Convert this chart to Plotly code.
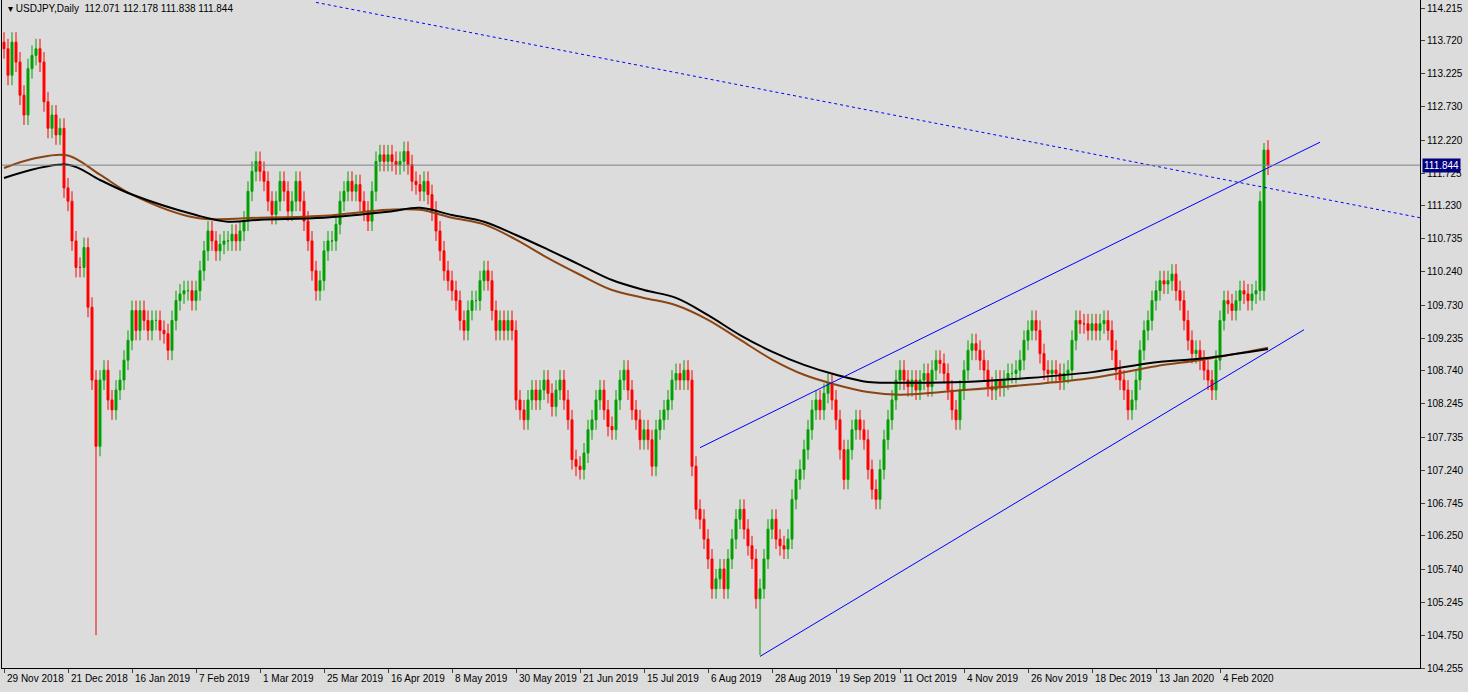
import plotly.graph_objects as go

closes = [113.6,113.2,113.7,113.4,112.9,112.6,113.3,113.5,113.6,113.4,112.8,112.4,112.6,112.3,112.4,
111.5,111.3,110.7,110.3,110.3,110.6,109.7,108.6,107.6,108.6,108.75,108.3,108.15,108.45,108.6,108.9,109.2,109.65,109.35,109.65,109.5,109.35,109.5,109.5,109.35,109.3,109.05,109.5,109.8,109.9,109.95,109.95,109.8,109.95,110.25,110.55,110.85,110.7,110.55,110.65,110.7,110.7,110.8,110.7,110.85,111.0,111.45,111.75,111.9,111.75,111.6,111.3,111.1,111.3,111.6,111.45,111.15,111.3,111.6,111.3,111.0,110.7,110.25,109.95,110.1,110.55,110.7,110.7,110.95,111.3,111.45,111.6,111.45,111.55,111.3,111.15,111.0,111.45,111.9,112.0,111.9,112.0,111.9,111.85,111.9,112.05,111.85,111.6,111.55,111.45,111.6,111.4,111.15,110.85,110.55,110.25,110.1,109.95,109.8,109.5,109.35,109.65,109.8,109.8,110.1,110.25,110.1,109.65,109.35,109.5,109.35,109.5,109.35,108.3,108.15,108.0,108.3,108.45,108.3,108.45,108.6,108.4,108.2,108.45,108.6,108.3,108.0,107.4,107.3,107.25,107.5,107.85,108.0,108.3,108.45,108.15,107.9,107.85,108.3,108.6,108.75,108.45,108.15,108.0,107.7,107.85,107.7,107.3,107.85,108.0,108.15,108.3,108.6,108.7,108.6,108.75,108.6,107.3,106.65,106.5,106.2,105.9,105.45,105.6,105.75,105.45,105.9,106.2,106.5,106.65,106.35,106.1,105.9,105.3,105.45,105.9,106.35,106.5,106.2,106.1,106.05,106.2,106.8,107.1,107.25,107.55,107.85,108.15,108.3,108.15,108.4,108.55,108.3,108.0,107.55,107.1,107.55,107.85,108.0,107.85,107.7,107.25,106.95,106.8,107.25,107.7,108.0,108.3,108.6,108.75,108.6,108.5,108.6,108.45,108.6,108.7,108.5,108.75,108.9,108.85,108.7,108.45,108.15,108.0,108.45,108.75,109.05,109.15,109.05,108.9,108.75,108.5,108.45,108.6,108.5,108.6,108.7,108.7,108.75,108.9,109.2,109.35,109.5,109.35,109.0,108.75,108.7,108.75,108.7,108.6,108.7,108.75,109.2,109.5,109.45,109.45,109.35,109.45,109.35,109.45,109.5,109.35,109.05,108.75,108.6,108.45,108.15,108.3,108.6,109.05,109.35,109.5,109.8,109.95,110.1,110.05,110.1,110.2,109.95,109.8,109.5,109.2,109.0,109.05,108.9,108.75,108.6,108.45,108.9,109.5,109.8,109.75,109.65,109.8,109.95,109.9,109.8,109.9,109.95,111.3,112.071,111.844]
first_open = 113.7
wick = 0.15
special_low = {23: 104.75, 189: 104.45}
special_high = {315: 112.178}

tick_idx = list(range(0, 320, 16))
tick_text = ["29 Nov 2018","21 Dec 2018","16 Jan 2019","7 Feb 2019","1 Mar 2019","25 Mar 2019","16 Apr 2019","8 May 2019","30 May 2019","21 Jun 2019","15 Jul 2019","6 Aug 2019","28 Aug 2019","19 Sep 2019","11 Oct 2019","4 Nov 2019","26 Nov 2019","18 Dec 2019","13 Jan 2020","4 Feb 2020"]
price_ticks = [114.215,113.720,113.225,112.730,112.220,111.725,111.230,110.735,110.240,109.730,109.235,108.740,108.245,107.735,107.240,106.745,106.250,105.740,105.245,104.750,104.255]

ma_black_x = [0,16,24,32,48,56,64,80,96,104,112,120,128,136,144,152,160,168,176,184,192,200,208,216,224,240,256,272,288,300,316]
ma_black_y = [111.65,111.85,111.62,111.4,111.09,110.99,111.02,111.05,111.14,111.2,111.09,110.99,110.79,110.57,110.34,110.11,109.96,109.84,109.58,109.28,109.03,108.83,108.68,108.57,108.56,108.57,108.63,108.72,108.87,108.93,109.07]
ma_brown_x = [0,8,16,24,32,48,64,80,96,104,112,120,128,136,144,152,160,168,176,184,192,200,208,216,224,240,256,272,288,300,316]
ma_brown_y = [111.8,111.95,111.99,111.7,111.4,111.05,111.05,111.08,111.17,111.17,111.05,110.95,110.72,110.44,110.19,109.96,109.84,109.73,109.51,109.21,108.91,108.68,108.53,108.42,108.38,108.45,108.53,108.63,108.81,108.91,109.09]

upper_ch = ([174, 329], [107.58, 112.19])
lower_ch = ([189, 325], [104.43, 109.36])
dotted = ([78, 354], [114.3, 111.05])
last_price = 111.844

n = len(closes)
x = list(range(n))
opens = [first_open] + closes[:-1]
opens[-1] = 112.071
opens[-2] = 109.95
highs = [special_high.get(i, max(o, c) + wick) for i, (o, c) in enumerate(zip(opens, closes))]
lows = [special_low.get(i, min(o, c) - wick) for i, (o, c) in enumerate(zip(opens, closes))]

fig = go.Figure()
fig.add_trace(go.Candlestick(x=x, open=opens, high=highs, low=lows, close=closes,
    increasing=dict(line=dict(color="#00a000", width=1), fillcolor="#00a000"),
    decreasing=dict(line=dict(color="#ff0000", width=1), fillcolor="#ff0000"),
    whiskerwidth=0, showlegend=False, hoverinfo="skip"))
fig.add_trace(go.Scatter(x=ma_brown_x, y=ma_brown_y, mode="lines", line=dict(color="#8b4513", width=2, shape="spline"), showlegend=False))
fig.add_trace(go.Scatter(x=ma_black_x, y=ma_black_y, mode="lines", line=dict(color="#000000", width=2, shape="spline"), showlegend=False))
for (lx, ly), dash in [(upper_ch, "solid"), (lower_ch, "solid"), (dotted, "dot")]:
    fig.add_trace(go.Scatter(x=lx, y=ly, mode="lines", line=dict(color="#0000ff", width=1, dash=dash), showlegend=False))
fig.add_hline(y=last_price, line=dict(color="#808080", width=1))
fig.add_annotation(x=1, xref="paper", y=last_price, text="111.844", showarrow=False, xanchor="left", xshift=2,
    font=dict(color="white", size=10, family="Liberation Sans"), bgcolor="#000080", borderpad=1)
fig.add_annotation(x=0.003, xref="paper", y=0.998, yref="paper", text="▾ USDJPY,Daily  112.071 112.178 111.838 111.844",
    showarrow=False, xanchor="left", yanchor="top", font=dict(size=10, color="black", family="Liberation Sans"))
for ti, tt in zip(tick_idx, tick_text):
    fig.add_annotation(x=ti, y=0, yref="paper", yanchor="top", xanchor="left", yshift=-3, xshift=1, text=tt,
        showarrow=False, font=dict(size=10, color="black", family="Liberation Sans"))

fig.update_layout(width=1468, height=692, margin=dict(l=2, r=48, t=0, b=24),
    plot_bgcolor="#dcdcdc", paper_bgcolor="#dcdcdc",
    font=dict(family="Liberation Sans", size=10, color="black"),
    xaxis=dict(range=[-0.5, 354], tickvals=tick_idx, showticklabels=False, showgrid=False, rangeslider=dict(visible=False),
               showline=True, linecolor="black", mirror=True, ticks="outside", ticklen=4, zeroline=False),
    yaxis=dict(side="right", range=[104.255, 114.336], tickvals=price_ticks, ticktext=[f"{v:.3f}" for v in price_ticks],
               showgrid=False, showline=True, linecolor="black", mirror=True, ticks="outside", ticklen=4, zeroline=False))
fig.write_html("out.html", post_script="document.body.style.margin='0';", config={"displayModeBar": False})
